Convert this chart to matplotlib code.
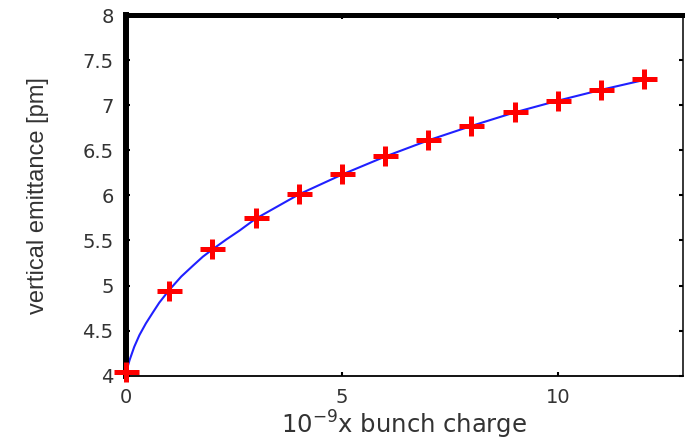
import matplotlib
matplotlib.use("Agg")
import matplotlib.pyplot as plt
from matplotlib.path import Path

# measured points (red crosses)
charge    = [0, 1, 2, 3, 4, 5, 6, 7, 8, 9, 10, 11, 12]
emittance = [4.04, 4.94, 5.40, 5.75, 6.01, 6.24, 6.44, 6.61, 6.77, 6.93, 7.05, 7.17, 7.29]

# fitted curve (blue)
fit_x = [0, 0.02, 0.08, 0.19, 0.31, 0.46, 0.62, 0.77, 1.0, 1.28, 1.55, 1.78, 2.0, 2.32,
         2.63, 3.0, 4, 5, 6, 7, 8, 9, 10, 11, 12]
fit_y = [4.0, 4.07, 4.17, 4.32, 4.45, 4.58, 4.70, 4.81, 4.95, 5.10, 5.22, 5.32, 5.40, 5.51,
         5.61, 5.74, 6.01, 6.23, 6.43, 6.61, 6.77, 6.92, 7.05, 7.17, 7.28]

x_ticks = [0, 5, 10]
y_ticks = [4, 4.5, 5, 5.5, 6, 6.5, 7, 7.5, 8]
y_tick_labels = ["4", "4.5", "5", "5.5", "6", "6.5", "7", "7.5", "8"]

TXT = "#333333"

# wide, flat cross like in the scanned figure
cross = Path([(-1, 0), (1, 0), (0, -0.78), (0, 0.78)],
             [Path.MOVETO, Path.LINETO, Path.MOVETO, Path.LINETO])

fig = plt.figure(figsize=(6.85, 4.43), dpi=100)
ax = fig.add_axes([0.184, 0.152, 0.813, 0.814])

ax.plot(fit_x, fit_y, color="#2020ff", lw=1.5, zorder=2)
ax.plot(charge, emittance, ls="none", marker=cross, color="#ff0000",
        markersize=18, markeredgewidth=3.6, zorder=3, clip_on=False)

ax.set_xlim(0, 12.9)
ax.set_ylim(4, 8)
ax.set_xticks(x_ticks)
ax.set_xticklabels([str(t) for t in x_ticks])
ax.set_yticks(y_ticks)
ax.set_yticklabels(y_tick_labels)

ax.tick_params(direction="in", length=3, width=1.5, top=True, right=True,
               labelsize=14, labelcolor=TXT, pad=9)

for side, w in [("left", 4.3), ("top", 3.6), ("right", 1.1), ("bottom", 1.3)]:
    ax.spines[side].set_linewidth(w)
    ax.spines[side].set_color("black")

ax.set_xlabel(r"10$^{-9}$x bunch charge", fontsize=17.5, color=TXT,
              family=["DejaVu Sans"], labelpad=1)
ax.set_ylabel("vertical emittance [pm]", fontsize=17, color=TXT,
              family=["Liberation Sans Narrow", "Liberation Sans"], labelpad=24)

fig.savefig("out.png", dpi=100)
